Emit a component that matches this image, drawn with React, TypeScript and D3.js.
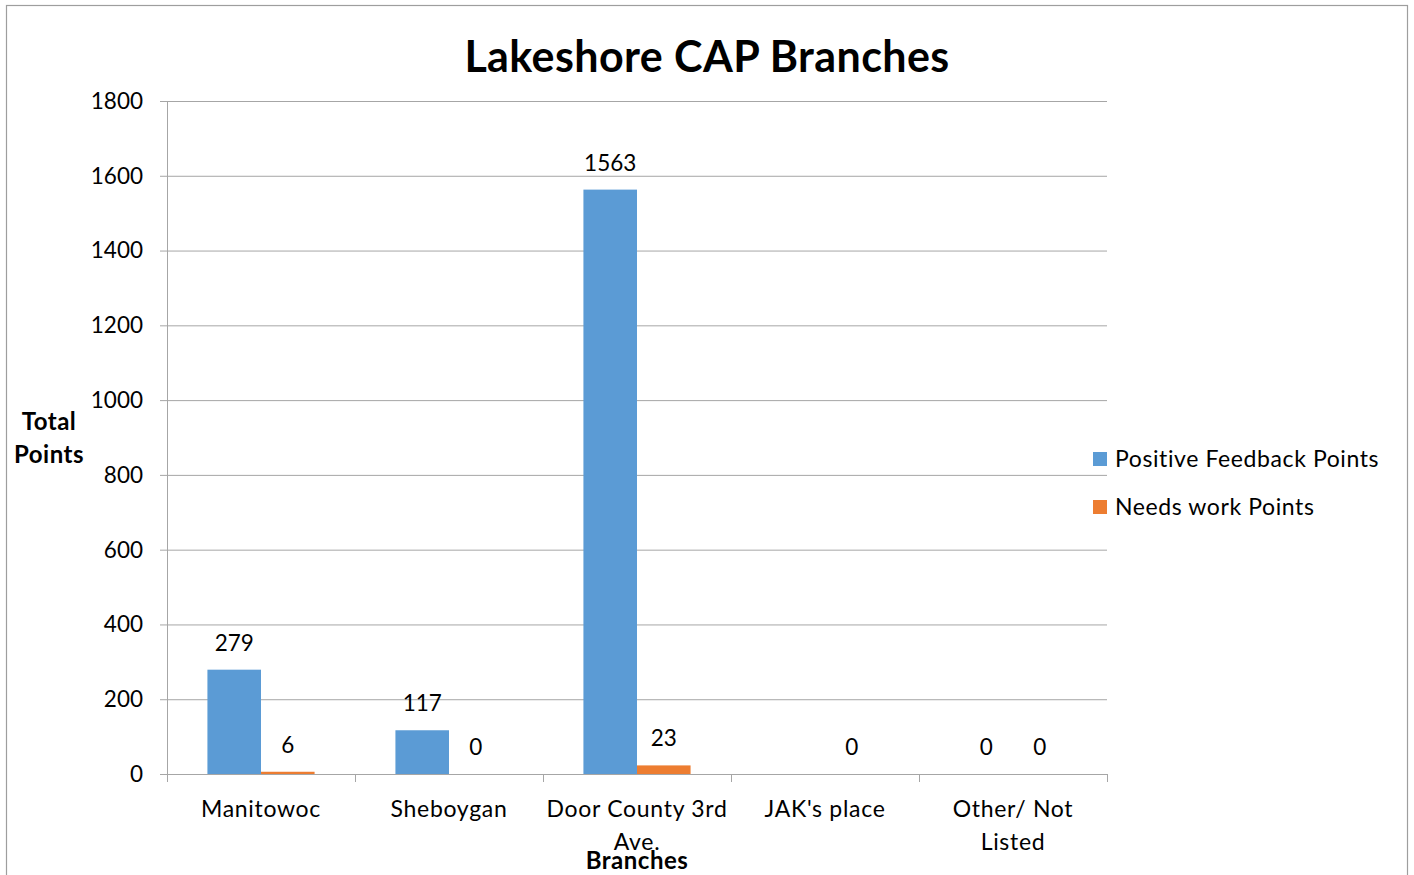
import React from "react";
import * as d3 from "d3";

const categories = ["Manitowoc", "Sheboygan", "Door County 3rd Ave.", "JAK's place", "Other/ Not Listed"];
const categoryLines = [["Manitowoc"], ["Sheboygan"], ["Door County 3rd", "Ave."], ["JAK's place"], ["Other/ Not", "Listed"]];
const positiveFeedback: (number | null)[] = [279, 117, 1563, null, 0];
const needsWork: (number | null)[] = [6, 0, 23, 0, 0];
const seriesNames = ["Positive Feedback Points", "Needs work Points"];
const yTicks = [0, 200, 400, 600, 800, 1000, 1200, 1400, 1600, 1800];

const COLORS = ["#5B9BD5", "#ED7D31"];
const FONT = "Lato, 'Open Sans', sans-serif";

export default function App() {
  const W = 1414, H = 875;
  const left = 167, right = 1107, top = 101, bottom = 774;
  const y = d3.scaleLinear().domain([0, 1800]).range([bottom, top]);
  const x = d3.scaleBand<string>().domain(categories).range([left, right]).paddingInner(0).paddingOuter(0);
  const bw = x.bandwidth();
  const groupPad = 0.215;
  const inner = d3.scaleBand<number>().domain([0, 1]).range([bw * groupPad, bw * (1 - groupPad)]);
  const series = [positiveFeedback, needsWork];
  const gridColor = "#A6A6A6";
  const LS = 0.7;

  return (
    <svg width={W} height={H} style={{ position: "absolute", left: 0, top: 0, background: "#fff" }} fontFamily={FONT}>
      <rect x={6.5} y={5.5} width={1401} height={880} fill="#fff" stroke="#9E9E9E" strokeWidth={1.2} />
      <text x={707} y={72} textAnchor="middle" fontSize={43} fontWeight="bold" letterSpacing={0.4} fill="#000">Lakeshore CAP Branches</text>
      {yTicks.map((t) => (
        <g key={t}>
          <line x1={160} x2={right} y1={y(t) + 0.5} y2={y(t) + 0.5} stroke={gridColor} strokeWidth={1} />
          <text x={143} y={y(t)} dy="0.35em" textAnchor="end" fontSize={22.5} fill="#000">{t}</text>
        </g>
      ))}
      <line x1={left + 0.5} x2={left + 0.5} y1={top} y2={bottom} stroke={gridColor} />
      {d3.range(categories.length + 1).map((i) => {
        const xx = left + i * bw;
        return <line key={i} x1={xx + 0.5} x2={xx + 0.5} y1={bottom} y2={bottom + 8} stroke={gridColor} />;
      })}
      {categories.map((c, ci) => (
        <g key={c}>
          {series.map((s, si) => {
            const v = s[ci];
            if (v === null) return null;
            const bx = (x(c) as number) + (inner(si) as number);
            return (
              <g key={si}>
                {v > 0 && (
                  <rect x={bx} y={y(v)} width={inner.bandwidth()} height={bottom - y(v)} fill={COLORS[si]} />
                )}
                <text x={bx + inner.bandwidth() / 2} y={y(v) - 19} textAnchor="middle" fontSize={22.5} fill="#000">{v}</text>
              </g>
            );
          })}
          {categoryLines[ci].map((ln, li) => (
            <text key={li} x={(x(c) as number) + bw / 2} y={817 + li * 33} textAnchor="middle" fontSize={23} letterSpacing={LS} fill="#000">{ln}</text>
          ))}
        </g>
      ))}
      <text x={637} y={869} textAnchor="middle" fontSize={24} fontWeight="bold" letterSpacing={0.5} fill="#000">Branches</text>
      <text x={49} y={430} textAnchor="middle" fontSize={24} fontWeight="bold" letterSpacing={0.5} fill="#000">Total</text>
      <text x={49} y={463} textAnchor="middle" fontSize={24} fontWeight="bold" letterSpacing={0.5} fill="#000">Points</text>
      {seriesNames.map((n, i) => (
        <g key={n}>
          <rect x={1093} y={452 + i * 48} width={14} height={14} fill={COLORS[i]} />
          <text x={1115} y={459 + i * 48} dy="0.35em" fontSize={23} letterSpacing={0.6} fill="#000">{n}</text>
        </g>
      ))}
    </svg>
  );
}
